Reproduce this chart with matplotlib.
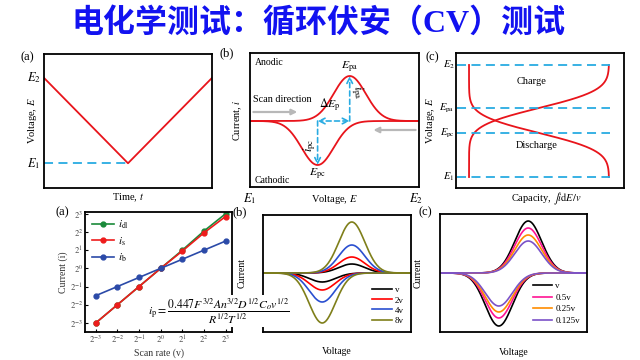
import math
import matplotlib
matplotlib.use("Agg")
import matplotlib.pyplot as plt
import numpy as np

plt.rcParams['font.family'] = ['Liberation Serif', 'DejaVu Serif']
plt.rcParams['mathtext.fontset'] = 'stix'

RED = '#e8141b'
BLUE = '#29abe2'
GRAY = '#b8b8b8'

# --- data ---
# (a) top: triangular potential sweep
time_pts = [0.0, 0.5, 1.0]
volt_pts = [1.0, 0.0, 1.0]          # E2, E1, E2

# (b) top: CV peaks (centre as axis fraction, height in px-units)
cv_anodic = dict(centre=0.59, height=45, width=0.095)
cv_cathodic = dict(centre=0.40, height=-44, width=0.095)

# (c) top: voltage levels (E1 = 0, E2 = 1)
levels = {'E1': 0.0, 'Epc': 0.393, 'Epa': 0.616, 'E2': 1.0}
level_labels = [r'$E_1$', r'$E_\mathrm{pc}$', r'$E_\mathrm{pa}$', r'$E_2$']
cap_width = 0.125

# (a) bottom: log2 current vs log2 scan rate
log_rate = [-3, -2, -1, 0, 1, 2, 3]
i_dl = [-3, -2, -1, 0, 1.0, 2.05, 3.0]
i_s = [-3, -2, -1, 0, 0.95, 1.95, 2.85]
i_b = [-1.5, -1, -0.5, 0, 0.5, 1.0, 1.5]

# (b) bottom: peak heights for each scan rate
rates_b = ['v', '2v', '4v', '8v']
colors_b = ['black', '#ff0000', '#2a4fd0', '#7f7f1a']
anodic_b = [9, 16, 28, 51]
cathodic_b = [9, 17, 29, 50]

# (c) bottom
rates_c = ['v', '0.5v', '0.25v', '0.125v']
colors_c = ['black', '#ff1493', '#ff8c00', '#7b52c8']
anodic_c = [52, 45, 38, 32]
cathodic_c = [53, 45, 39, 33]


def gauss(x, c, w):
    return np.exp(-0.5 * ((x - c) / w) ** 2)


def px_axes(fig, x0, y0, x1, y1):
    W, H = 640, 360
    return fig.add_axes([x0 / W, 1 - y1 / H, (x1 - x0) / W, (y1 - y0) / H])


def box(ax, lw=1.3):
    ax.set_xticks([])
    ax.set_yticks([])
    for s in ax.spines.values():
        s.set_linewidth(lw)


fig = plt.figure(figsize=(6.4, 3.6), dpi=100)

fig.text(0.497, 1 - 24 / 360, '电化学测试：循环伏安（CV）测试', ha='center', va='center',
         fontsize=23, color='#1212f0', weight='bold',
         family=['Liberation Serif', 'Noto Sans CJK SC'])

# ---------------- top (a) ----------------
ax = px_axes(fig, 44, 54, 212, 188)
box(ax)
ax.plot(time_pts, volt_pts, color=RED, lw=1.3)
ax.plot([0, time_pts[1]], [volt_pts[1]] * 2, color=BLUE, lw=1.3, ls=(0, (5, 3)))
ax.set_xlim(0, 1)
ax.set_ylim(-0.29, 1.28)
ax.text(-0.02, 1.0, r'$E_2$', transform=ax.get_yaxis_transform(), ha='right', va='center', fontsize=9)
ax.text(-0.02, 0.0, r'$E_1$', transform=ax.get_yaxis_transform(), ha='right', va='center', fontsize=9)
ax.text(-0.07, 0.5, 'Voltage, $E$', transform=ax.transAxes, rotation=90, ha='center', va='center', fontsize=7.5)
ax.text(0.5, -0.07, 'Time, $t$', transform=ax.transAxes, ha='center', va='center', fontsize=7.5)
fig.text(27 / 640, 1 - 57 / 360, '(a)', ha='center', va='center', fontsize=9)

# ---------------- top (b) ----------------
ax = px_axes(fig, 250, 53, 419, 187)
box(ax)
x = np.linspace(0, 1, 400)
ax.plot(x, cv_anodic['height'] * gauss(x, cv_anodic['centre'], cv_anodic['width']), color=RED, lw=1.3)
ax.plot(x, cv_cathodic['height'] * gauss(x, cv_cathodic['centre'], cv_cathodic['width']), color=RED, lw=1.3)
ax.set_xlim(0, 1)
ax.set_ylim(-66, 68)
ca, cc = cv_anodic['centre'], cv_cathodic['centre']
ha_, hc_ = cv_anodic['height'], cv_cathodic['height']
arr = dict(arrowstyle='->', color=BLUE, lw=1.2, ls=(0, (3, 2)), shrinkA=0, shrinkB=0)
ax.annotate('', xy=(ca, ha_), xytext=(ca, 0), arrowprops=arr)
ax.annotate('', xy=(cc, hc_), xytext=(cc, 0), arrowprops=arr)
ax.annotate('', xy=(cc, 0), xytext=(ca, 0), arrowprops=dict(arr, arrowstyle='<->'))
gar = dict(arrowstyle='-|>', color=GRAY, lw=1.6, mutation_scale=8, shrinkA=0, shrinkB=0)
ax.annotate('', xy=(0.28, 9), xytext=(0.02, 9), arrowprops=gar)
ax.annotate('', xy=(0.73, -9), xytext=(0.98, -9), arrowprops=gar)
ax.text(0.03, 0.93, 'Anodic', transform=ax.transAxes, ha='left', va='center', fontsize=7)
ax.text(0.03, 0.05, 'Cathodic', transform=ax.transAxes, ha='left', va='center', fontsize=7)
ax.text(0.02, 22, 'Scan direction', ha='left', va='center', fontsize=7.3)
ax.text(0.47, 8, r'$\Delta E_\mathrm{p}$', ha='center', va='bottom', fontsize=8.5)
ax.text(ca, ha_ + 2, r'$E_\mathrm{pa}$', ha='center', va='bottom', fontsize=8.5)
ax.text(cc, hc_ - 2, r'$E_\mathrm{pc}$', ha='center', va='top', fontsize=8.5)
ax.text(ca + 0.045, 29, r'$i_\mathrm{pa}$', ha='center', va='center', fontsize=9, rotation=-80)
ax.text(cc - 0.045, -24, r'$i_\mathrm{pc}$', ha='center', va='center', fontsize=9, rotation=90)
ax.text(-0.07, 0.5, 'Current, $i$', transform=ax.transAxes, rotation=90, ha='center', va='center', fontsize=7.5)
ax.text(0.0, -0.09, r'$E_1$', transform=ax.transAxes, ha='center', va='center', fontsize=9)
ax.text(0.5, -0.09, 'Voltage, $E$', transform=ax.transAxes, ha='center', va='center', fontsize=7.5)
ax.text(0.98, -0.09, r'$E_2$', transform=ax.transAxes, ha='center', va='center', fontsize=9)
fig.text(227 / 640, 1 - 53 / 360, '(b)', ha='center', va='center', fontsize=9)

# ---------------- top (c) ----------------
ax = px_axes(fig, 456, 53, 624, 188)
box(ax)
ev = np.linspace(levels['E1'], levels['E2'], 400)
erf = np.vectorize(math.erf)
charge = 0.5 * (1 + erf((ev - levels['Epa']) / (cap_width * math.sqrt(2))))
discharge = 0.5 * (1 + erf((levels['Epc'] - ev) / (cap_width * math.sqrt(2))))
ax.plot(charge, ev, color=RED, lw=1.3)
ax.plot(discharge, ev, color=RED, lw=1.3)
for k, lab in zip(['E1', 'Epc', 'Epa', 'E2'], level_labels):
    ax.plot([-0.086, 1.007], [levels[k]] * 2, color=BLUE, lw=1.3, ls=(0, (5, 3)))
    ax.text(-0.008, levels[k], lab, transform=ax.get_yaxis_transform(), ha='right', va='center', fontsize=7.5)
ax.set_xlim(-0.093, 1.107)
ax.set_ylim(-0.098, 1.107)
ax.text(0.45, 0.85, 'Charge', ha='center', va='center', fontsize=7.5)
ax.text(0.48, 0.28, 'Discharge', ha='center', va='center', fontsize=7.5)
ax.text(-0.15, 0.5, 'Voltage, $E$', transform=ax.transAxes, rotation=90, ha='center', va='center', fontsize=7.5)
ax.text(0.54, -0.08, r'Capacity, $\int i\mathrm{d}E/v$', transform=ax.transAxes, ha='center', va='center', fontsize=7.5)
fig.text(432 / 640, 1 - 57 / 360, '(c)', ha='center', va='center', fontsize=9)

# ---------------- bottom (a) ----------------
ax = px_axes(fig, 85, 212, 232, 332)
for s in ax.spines.values():
    s.set_linewidth(1.3)
ax.plot(log_rate, i_dl, color='#1a8a3a', marker='o', ms=3.5, lw=1.2, label=r'$i_\mathrm{dl}$')
ax.plot(log_rate, i_s, color='#ee1c1c', marker='o', ms=3.5, lw=1.2, label=r'$i_\mathrm{s}$')
ax.plot(log_rate, i_b, color='#2b4aa8', marker='o', ms=3.5, lw=1.2, label=r'$i_\mathrm{b}$')
ax.set_xlim(-3.5, 3.3)
ax.set_ylim(-3.5, 3.1)
ax.set_xticks(log_rate)
ax.set_yticks(log_rate)
tick_txt = [r'$2^{\mathrm{-}%d}$' % -v if v < 0 else r'$2^{%d}$' % v for v in log_rate]
ax.set_xticklabels(tick_txt)
ax.set_yticklabels(tick_txt)
ax.tick_params(direction='in', length=2.5, labelsize=6, labelcolor='#444444', pad=1.5)
ax.legend(loc='upper left', frameon=False, fontsize=8, handlelength=2.0, labelspacing=0.35,
          borderaxespad=0.2, handletextpad=0.4)
ax.text(-0.15, 0.5, 'Current (i)', transform=ax.transAxes, rotation=90, ha='center', va='center', fontsize=7, color='#333333')
ax.text(0.5, -0.18, 'Scan rate (v)', transform=ax.transAxes, ha='center', va='center', fontsize=7, color='#333333')
fig.text(62 / 640, 1 - 212 / 360, '(a)', ha='center', va='center', fontsize=9)
fig.text(219 / 640, 1 - 311 / 360,
         r'$i_\mathrm{p}=\dfrac{0.447F^{3/2}An^{3/2}D^{1/2}C_o v^{1/2}}{R^{1/2}T^{1/2}}$',
         ha='center', va='center', fontsize=8.5,
         bbox=dict(facecolor='white', edgecolor='none', pad=0.5), zorder=10)

# ---------------- bottom (b) ----------------
ax = px_axes(fig, 263, 215, 411, 332)
box(ax)
x = np.linspace(0, 1, 400)
for lab, col, a, c in zip(rates_b, colors_b, anodic_b, cathodic_b):
    ax.plot(x, a * gauss(x, 0.60, 0.088), color=col, lw=1.2, label=lab)
    ax.plot(x, -c * gauss(x, 0.40, 0.088), color=col, lw=1.2)
ax.set_xlim(0, 1)
ax.set_ylim(-59, 58)
ax.legend(loc='lower right', frameon=False, fontsize=6.5, handlelength=2.2, labelspacing=0.2,
          borderaxespad=0.4, handletextpad=0.3)
ax.text(-0.14, 0.5, 'Current', transform=ax.transAxes, rotation=90, ha='center', va='center', fontsize=7)
ax.text(0.5, -0.17, 'Voltage', transform=ax.transAxes, ha='center', va='center', fontsize=7)
fig.text(240 / 640, 1 - 212 / 360, '(b)', ha='center', va='center', fontsize=9)

# ---------------- bottom (c) ----------------
ax = px_axes(fig, 440, 214, 587, 332)
box(ax)
for lab, col, a, c in zip(rates_c, colors_c, anodic_c, cathodic_c):
    ax.plot(x, a * gauss(x, 0.60, 0.092), color=col, lw=1.2, label=lab)
    ax.plot(x, -c * gauss(x, 0.40, 0.092), color=col, lw=1.2)
ax.set_xlim(0, 1)
ax.set_ylim(-59, 59)
ax.legend(loc='lower right', frameon=False, fontsize=6.5, handlelength=2.2, labelspacing=0.35,
          borderaxespad=0.4, handletextpad=0.3)
ax.text(-0.15, 0.5, 'Current', transform=ax.transAxes, rotation=90, ha='center', va='center', fontsize=7)
ax.text(0.5, -0.17, 'Voltage', transform=ax.transAxes, ha='center', va='center', fontsize=7)
fig.text(425 / 640, 1 - 212 / 360, '(c)', ha='center', va='center', fontsize=9)

fig.savefig('out.png', dpi=100)
